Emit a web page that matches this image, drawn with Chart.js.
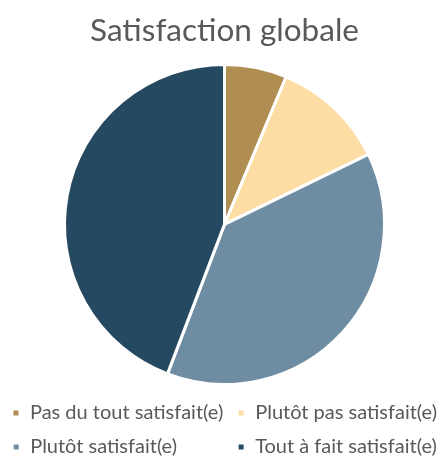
<!DOCTYPE html>
<html>
<head>
<meta charset="utf-8">
<script src="https://cdn.jsdelivr.net/npm/chart.js@4/dist/chart.umd.min.js"></script>
<style>
  body { margin: 0; background: #fff; overflow: hidden; }
  #wrap { width: 445px; height: 460px; overflow: hidden; }
  #chart { display: block; margin-left: -5px; }
</style>
</head>
<body>
<div id="wrap"><canvas id="chart" width="459" height="467"></canvas></div>
<script>
// données (en %)
var categories = ["Pas du tout satisfait(e)", "Plutôt pas satisfait(e)", "Plutôt satisfait(e)", "Tout à fait satisfait(e)"];
var valeurs = [6.3, 11.5, 38.0, 44.2];
var couleurs = ["#B08D50", "#FDDDA4", "#6F8DA2", "#264962"];

var policeLegende = { family: 'Lato', size: 20 };

// aligne la 2e ligne de la légende en colonnes (comme Excel)
function etiquettes(chart) {
  var items = Chart.overrides.pie.plugins.legend.labels.generateLabels(chart);
  var c = chart.ctx;
  c.save();
  c.font = policeLegende.size + 'px "' + policeLegende.family + '"';
  var cible = c.measureText(items[0].text).width;
  while (c.measureText(items[2].text + ' ').width <= cible) {
    items[2].text += ' ';
  }
  c.restore();
  return items;
}

var ctx = document.getElementById('chart').getContext('2d');
var myPie = new Chart(ctx, {
  type: 'pie',
  data: {
    labels: categories,
    datasets: [{
      data: valeurs,
      backgroundColor: couleurs,
      borderColor: '#ffffff',
      borderWidth: 3,
      radius: 160
    }]
  },
  options: {
    responsive: false,
    animation: false,
    plugins: {
      title: {
        display: true,
        text: 'Satisfaction globale',
        color: '#595959',
        font: { family: 'Lato', size: 31.5, weight: 'normal' },
        padding: { top: 12, bottom: 10 }
      },
      legend: {
        position: 'bottom',
        labels: {
          color: '#595959',
          font: policeLegende,
          boxWidth: 8,
          boxHeight: 8,
          padding: 14,
          generateLabels: etiquettes
        }
      },
      tooltip: { enabled: false }
    }
  }
});
</script>
</body>
</html>
